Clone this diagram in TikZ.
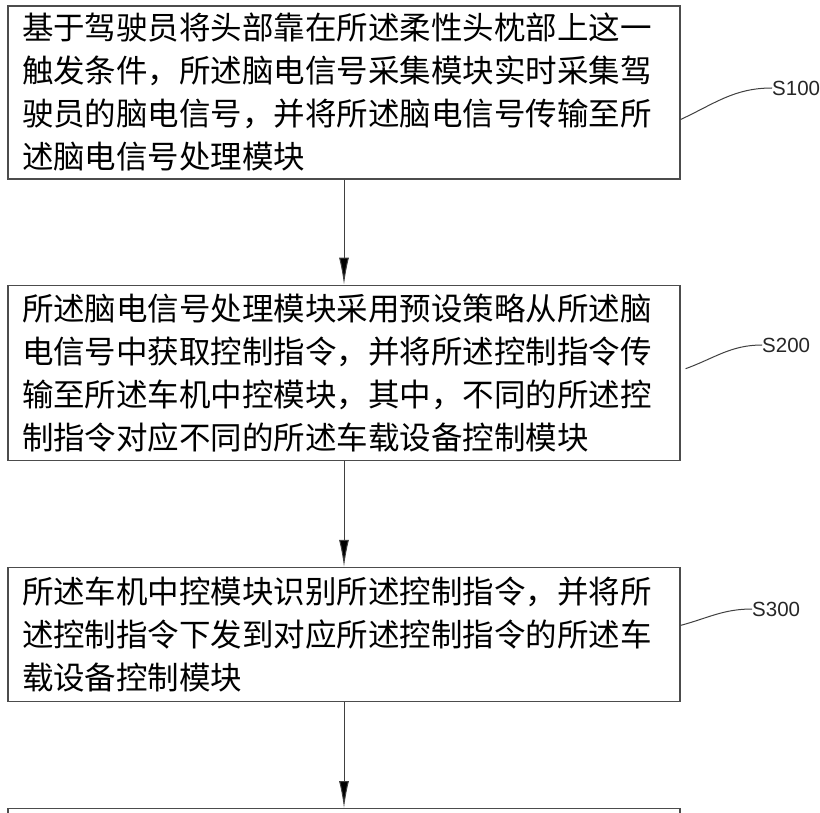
\documentclass[tikz,border=0pt]{standalone}
\usepackage{fontspec}
\setmainfont{Liberation Sans}
\newfontfamily\cjk{Noto Sans CJK SC}
\usetikzlibrary{positioning,arrows.meta}

\tikzset{
  stepbox/.style={draw=black!70, line width=1.2pt, align=left, text width=644pt,
    inner xsep=14pt, inner ysep=0pt, font=\cjk\fontsize{31.5pt}{43pt}\selectfont},
  steplabel/.style={anchor=west, inner sep=0pt, font=\fontsize{20.5pt}{24pt}\selectfont, text=black!85},
  flow/.style={-{Latex[length=27pt,width=10pt,fill=black]}, draw=black!75, line width=1pt},
  leader/.style={draw=black!75, line width=1pt}
}

\begin{document}
\begin{tikzpicture}[x=1pt,y=1pt,node distance=105pt]
\clip (0,0) rectangle (820,-813);
\fill[white] (0,0) rectangle (820,-813);
% steps
\node (s100) [stepbox, minimum height=173pt] at (344,-92.5) {基于驾驶员将头部靠在所述柔性头枕部上这一\\触发条件，所述脑电信号采集模块实时采集驾\\驶员的脑电信号，并将所述脑电信号传输至所\\述脑电信号处理模块};
\node (s200) [stepbox, minimum height=175pt, below=of s100] {所述脑电信号处理模块采用预设策略从所述脑\\电信号中获取控制指令，并将所述控制指令传\\输至所述车机中控模块，其中，不同的所述控\\制指令对应不同的所述车载设备控制模块};
\node (s300) [stepbox, minimum height=134pt, below=106pt of s200] {所述车机中控模块识别所述控制指令，并将所\\述控制指令下发到对应所述控制指令的所述车\\载设备控制模块};
\node (s400) [stepbox, minimum height=134pt, below=106pt of s300] {};
% labels
\node (l100) [steplabel] at (772,-88) {S100};
\node (l200) [steplabel] at (762,-345) {S200};
\node (l300) [steplabel] at (752,-609) {S300};
\draw[leader] ([yshift=-27pt]s100.east) to[out=25,in=180] (l100.west);
\draw[leader] ([xshift=5pt,yshift=4pt]s200.east) to[out=20,in=180] (l200.west);
\draw[leader] ([yshift=9pt]s300.east) to[out=15,in=180] (l300.west);
% arrows
\draw[flow] (s100) -- (s200);
\draw[flow] (s200) -- (s300);
\draw[flow] (s300) -- (s400);
\end{tikzpicture}
\end{document}
